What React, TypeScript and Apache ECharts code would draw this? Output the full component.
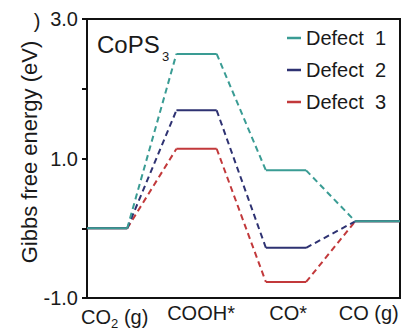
import React, { useEffect, useRef } from "react";
import * as echarts from "echarts";

const steps = ["CO2 (g)", "COOH*", "CO*", "CO (g)"];
const stepStart = [0, 2, 4, 6];
const stepEnd = [0.9, 2.9, 4.9, 7];
const labelPos = [0.62, 2.55, 4.5, 6.3];
const defectNames = ["Defect  1", "Defect  2", "Defect  3"];
const defect1 = [0, 2.5, 0.83, 0.1];
const defect2 = [0, 1.69, -0.28, 0.1];
const defect3 = [0, 1.14, -0.77, 0.1];
const colors = ["#3a9c94", "#2e3272", "#c2393b"];
const yTicks = [-1, 0, 1, 2, 3];

const FONT = "'Liberation Sans', Arial, sans-serif";

function solidData(vals: number[]) {
  const out: any[] = [];
  vals.forEach((v, i) => {
    out.push([stepStart[i], v]);
    out.push([stepEnd[i], v]);
    if (i < vals.length - 1) out.push([(stepEnd[i] + stepStart[i + 1]) / 2, null]);
  });
  return out;
}

function dashData(vals: number[]) {
  const out: any[] = [];
  for (let i = 0; i < vals.length - 1; i++) {
    out.push([stepEnd[i], vals[i]]);
    out.push([stepStart[i + 1], vals[i + 1]]);
    if (i < vals.length - 2) out.push([(stepEnd[i + 1] + stepStart[i + 1]) / 2, null]);
  }
  return out;
}

const labelText = (s: string) => {
  if (s === "CO2 (g)") return "{a|CO}{s|2}{a| (g)}";
  return "{a|" + s + "}";
};

export default function App() {
  const ref = useRef<HTMLDivElement>(null);
  useEffect(() => {
    document.body.style.margin = "0";
    const chart = echarts.init(ref.current!, undefined, { renderer: "svg" });
    const all = [defect1, defect2, defect3];
    const series: any[] = [];
    [2, 1, 0].forEach((k) => {
      series.push({
        type: "line",
        name: defectNames[k],
        data: solidData(all[k]),
        color: colors[k],
        symbol: "none",
        lineStyle: { color: colors[k], width: 2 },
        silent: true,
        connectNulls: false,
      });
      series.push({
        type: "line",
        name: defectNames[k],
        data: dashData(all[k]),
        color: colors[k],
        symbol: "none",
        lineStyle: { color: colors[k], width: 2, type: [6, 4] },
        silent: true,
        connectNulls: false,
      });
    });
    chart.setOption({
      animation: false,
      grid: {
        left: 87,
        right: 9,
        top: 19,
        bottom: 37,
        show: true,
        borderColor: "#111",
        borderWidth: 2,
      },
      legend: {
        data: defectNames,
        orient: "vertical",
        left: 287,
        top: 28,
        padding: 0,
        itemGap: 12,
        icon: "rect",
        itemWidth: 14,
        itemHeight: 2.5,
        textStyle: { fontSize: 20, fontFamily: FONT, color: "#1a1a1a", lineHeight: 20 },
      },
      xAxis: {
        type: "value",
        min: 0,
        max: 7,
        axisLine: { show: true, onZero: false, lineStyle: { color: "#111", width: 2 } },
        axisTick: { show: false },
        splitLine: { show: false },
        axisLabel: {
          customValues: labelPos,
          margin: 5,
          formatter: (v: number) => {
            const i = labelPos.findIndex((p) => Math.abs(p - v) < 1e-6);
            return i >= 0 ? labelText(steps[i]) : "";
          },
          rich: {
            a: { fontSize: 20, fontFamily: FONT, color: "#1a1a1a" },
            s: { fontSize: 13, fontFamily: FONT, color: "#1a1a1a", padding: [14, 0, 0, 0] },
          },
        },
      },
      yAxis: {
        type: "value",
        min: -1,
        max: 3,
        interval: 1,
        axisLine: { show: true, lineStyle: { color: "#111", width: 2 } },
        axisTick: { show: true, length: 5, lineStyle: { color: "#111", width: 2 } },
        splitLine: { show: false },
        axisLabel: {
          margin: 9,
          fontSize: 20,
          fontFamily: FONT,
          color: "#1a1a1a",
          formatter: (v: number) => (yTicks.includes(v) && Math.abs(v % 2) === 1 ? v.toFixed(1) : ""),
        },
      },
      graphic: [
        {
          type: "text",
          x: 29,
          y: 152,
          rotation: Math.PI / 2,
          style: {
            text: "Gibbs free energy (eV)",
            fontSize: 22,
            fontFamily: FONT,
            fill: "#1a1a1a",
            align: "center",
            verticalAlign: "middle",
          },
        },
        {
          type: "text",
          x: 37,
          y: 21,
          style: {
            text: ")",
            fontSize: 20,
            fontFamily: FONT,
            fill: "#1a1a1a",
            align: "center",
            verticalAlign: "middle",
          },
        },
        {
          type: "text",
          x: 97,
          y: 44,
          style: {
            text: "CoPS",
            fontSize: 24,
            fontFamily: FONT,
            fill: "#1a1a1a",
            align: "left",
            verticalAlign: "middle",
          },
        },
        {
          type: "text",
          x: 162,
          y: 56,
          style: {
            text: "3",
            fontSize: 13,
            fontFamily: FONT,
            fill: "#1a1a1a",
            align: "left",
            verticalAlign: "middle",
          },
        },
      ],
      series,
    });
    return () => chart.dispose();
  }, []);
  return <div ref={ref} style={{ width: 409, height: 335 }} />;
}
